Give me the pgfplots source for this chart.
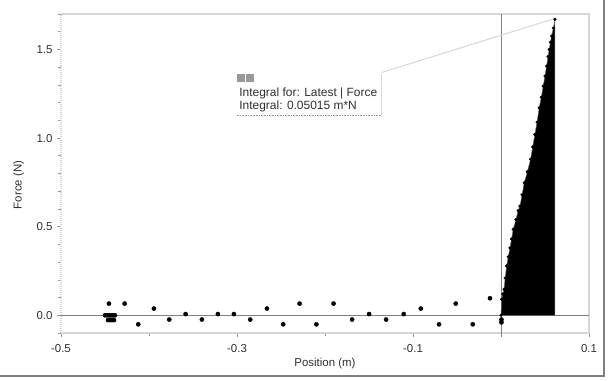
\documentclass[border=0pt]{standalone}
\usepackage{pgfplots}
\pgfplotsset{compat=1.18}
\usepackage{fontspec}
\setmainfont{Liberation Sans}
\definecolor{framegray}{HTML}{D6D6D6}
\definecolor{zerogray}{HTML}{808080}
\definecolor{boxgray}{HTML}{999999}
\definecolor{txt}{HTML}{303030}
\begin{document}
\begin{tikzpicture}[x=1bp,y=1bp]
\useasboundingbox (-61,-47) rectangle (547,333);
\begin{axis}[
  at={(0,0)}, anchor=south west,
  scale only axis, width=528bp, height=319bp,
  xmin=-0.5, xmax=0.1, ymin=-0.1, ymax=1.7,
  axis line style={draw=none},
  xtick={-0.5,-0.3,-0.1,0.1},
  minor xtick={-0.4,-0.2,0},
  ytick={0,0.5,1.0,1.5},
  minor ytick={-0.1,0.1,0.2,0.3,0.4,0.6,0.7,0.8,0.9,1.1,1.2,1.3,1.4,1.6,1.7},
  xticklabels={-0.5,-0.3,-0.1,0.1},
  yticklabels={0.0,0.5,1.0,1.5},
  tick pos=left, tick align=outside,
  major tick length=4bp, minor tick length=3bp,
  tick style={color=boxgray, line width=0.6bp},
  /pgf/number format/assume math mode=true,
  tick label style={font=\fontsize{11.5}{12}\selectfont, text=txt},
  yticklabel style={xshift=-1bp},
  xticklabel style={yshift=-4bp},
  xlabel={Position (m)}, ylabel={Force (N)},
  label style={font=\fontsize{11.5}{12}\selectfont, text=txt},
  xlabel style={at={(axis description cs:0.50,-0.095)}, anchor=center},
  ylabel style={at={(axis description cs:-0.080,0.464)}, anchor=center},
  clip=false,
]
% frame
\draw[framegray, line width=2bp] (rel axis cs:0,0) -- (rel axis cs:1,0) -- (rel axis cs:1,1) -- (rel axis cs:0,1);
\draw[framegray, line width=1bp, densely dotted] (rel axis cs:0,0) -- (rel axis cs:0,1);
% zero lines
\draw[zerogray, line width=0.9bp] (axis cs:-0.5,0) -- (axis cs:0.1,0);
\draw[zerogray, line width=0.9bp] (axis cs:0,1.7) -- (axis cs:0,-0.123);
% integral region
\addplot[fill=black, draw=black!60, line width=0.5bp] coordinates {
(0.0000,0.000) (0.0008,0.090) (0.0020,0.120) (0.0034,0.147) (0.0048,0.210)
(0.0064,0.278) (0.0083,0.330) (0.0102,0.380) (0.0120,0.430) (0.0139,0.485)
(0.0170,0.540) (0.0195,0.590) (0.0215,0.616) (0.0240,0.680) (0.0264,0.748)
(0.0300,0.810) (0.0336,0.880) (0.0360,0.950) (0.0385,1.020) (0.0410,1.090)
(0.0434,1.170) (0.0458,1.230) (0.0480,1.293) (0.0500,1.350) (0.0518,1.406)
(0.0535,1.460) (0.0548,1.500) (0.0562,1.540) (0.0575,1.575) (0.0595,1.620)
(0.0613,1.670) (0.0613,0.000)} -- cycle;
\addplot[only marks, mark=*, mark size=1.4bp, black] coordinates {
(0.0000,0.000) (0.0008,0.090) (0.0020,0.120) (0.0034,0.147) (0.0048,0.210)
(0.0064,0.278) (0.0083,0.330) (0.0102,0.380) (0.0120,0.430) (0.0139,0.485)
(0.0170,0.540) (0.0195,0.590) (0.0215,0.616) (0.0240,0.680) (0.0264,0.748)
(0.0300,0.810) (0.0336,0.880) (0.0360,0.950) (0.0385,1.020) (0.0410,1.090)
(0.0434,1.170) (0.0458,1.230) (0.0480,1.293) (0.0500,1.350) (0.0518,1.406)
(0.0535,1.460) (0.0548,1.500) (0.0562,1.540) (0.0575,1.575) (0.0595,1.620)
(0.0613,1.670)};
% scattered points before the integral
\addplot[only marks, mark=*, mark size=2.1bp, black] coordinates {
(-0.4500,0.000) (-0.4477,0.000) (-0.4455,0.000) (-0.4432,0.000) (-0.4410,0.000) (-0.4387,0.000)
(-0.4466,-0.027) (-0.4443,-0.027) (-0.4420,-0.027) (-0.4398,-0.027) (-0.4455,0.066)
(-0.4277,0.066) (-0.4122,-0.051) (-0.3944,0.038) (-0.3770,-0.024) (-0.3584,0.007)
(-0.3399,-0.024) (-0.3217,0.007) (-0.3035,0.007) (-0.2850,-0.024) (-0.2660,0.038)
(-0.2475,-0.051) (-0.2289,0.066) (-0.2098,-0.051) (-0.1903,0.066) (-0.1692,-0.024)
(-0.1499,0.007) (-0.1306,-0.024) (-0.1105,0.007) (-0.0911,0.038) (-0.0704,-0.051)
(-0.0514,0.066) (-0.0321,-0.051) (-0.0125,0.096) (0.0005,-0.024) (0.0005,-0.040)};
% annotation callout
\draw[framegray, line width=1bp] (axis cs:-0.1356,1.37) -- (axis cs:0.0614,1.675);
\fill[white] (axis cs:-0.3003,1.128) rectangle (axis cs:-0.1356,1.359);
\draw[framegray, line width=1bp] (axis cs:-0.1356,1.359) -- (axis cs:-0.1356,1.128);
\draw[boxgray, line width=0.6bp, densely dotted] (axis cs:-0.3003,1.128) -- (axis cs:-0.1356,1.128);
\fill[boxgray] (axis cs:-0.2995,1.359) rectangle (axis cs:-0.2905,1.314);
\fill[boxgray] (axis cs:-0.2893,1.359) rectangle (axis cs:-0.2803,1.314);
\node[anchor=west, inner sep=0pt, text=txt, font=\fontsize{12}{13}\selectfont] at (axis cs:-0.2975,1.252) {Integral for: Latest | Force};
\node[anchor=west, inner sep=0pt, text=txt, font=\fontsize{12}{13}\selectfont] at (axis cs:-0.2975,1.176) {Integral: 0.05015 m*N};
\end{axis}
% outer border (right and bottom)
\draw[zerogray, line width=1.2bp] (-61,-43) -- (543,-43) -- (543,333);
\end{tikzpicture}
\end{document}
